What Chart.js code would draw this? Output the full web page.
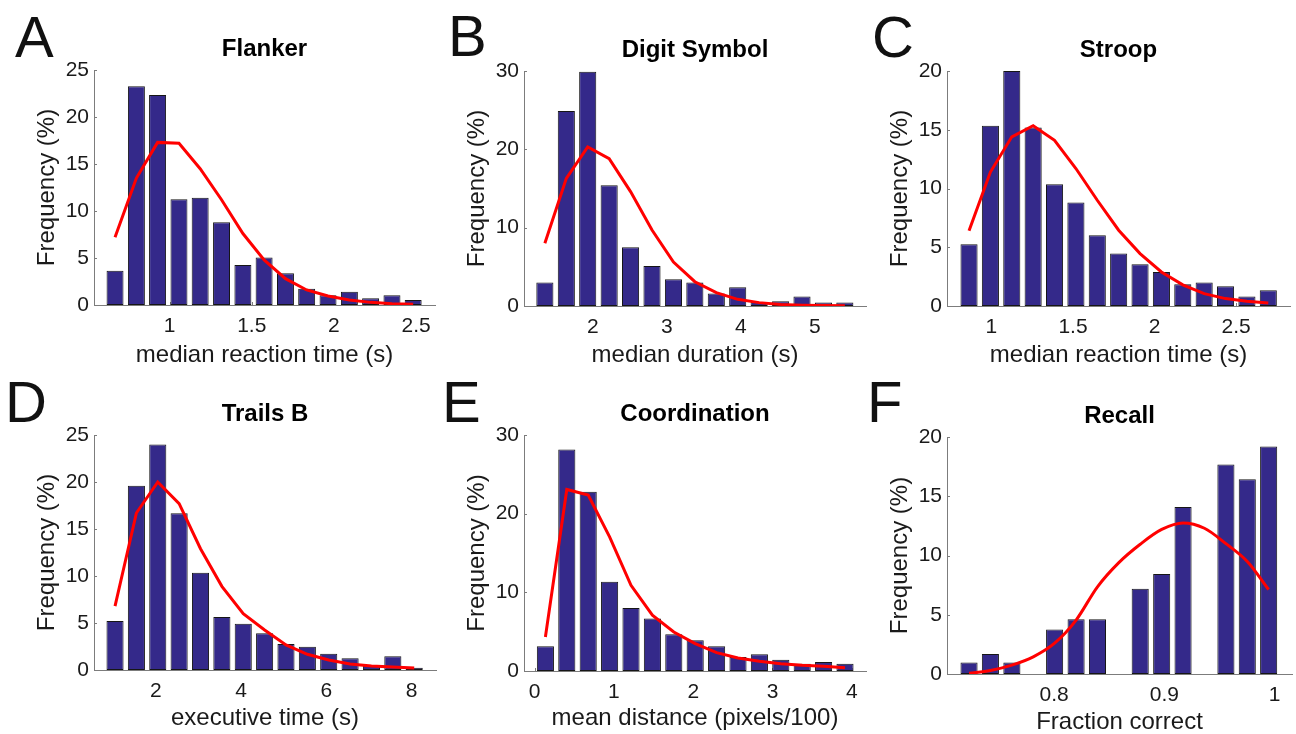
<!DOCTYPE html>
<html>
<head>
<meta charset="utf-8">
<script src="https://cdn.jsdelivr.net/npm/chart.js@4.4.1/dist/chart.umd.min.js"></script>
<style>
  body { margin: 0; background: #fff; width: 1296px; height: 734px; overflow: hidden; position: relative; font-family: "Liberation Sans", Arial, sans-serif; }
  canvas { position: absolute; }
  .letter { position: absolute; font-size: 58px; line-height: 58px; color: #111; }
</style>
</head>
<body>
<div class="letter" style="left:15px;top:8px">A</div>
<div class="letter" style="left:448px;top:7px">B</div>
<div class="letter" style="left:872px;top:8px">C</div>
<div class="letter" style="left:5px;top:373px">D</div>
<div class="letter" style="left:442px;top:373px">E</div>
<div class="letter" style="left:867px;top:373px">F</div>
<script>
// bin centres, histogram frequency (%) and fitted curve for each task
const flankerX = [0.668, 0.798, 0.927, 1.057, 1.186, 1.316, 1.446, 1.575, 1.705, 1.834, 1.964, 2.094, 2.223, 2.353, 2.482];
const flankerFreq = [3.65, 23.26, 22.34, 11.24, 11.42, 8.8, 4.26, 5.04, 3.37, 1.74, 1.03, 1.42, 0.71, 1.03, 0.53];
const flankerFit = [7.2, 13.5, 17.3, 17.2, 14.5, 11.2, 7.6, 4.8, 2.8, 1.6, 0.96, 0.53, 0.28, 0.14, 0.07];

const digitX = [1.35, 1.64, 1.929, 2.219, 2.508, 2.798, 3.088, 3.377, 3.667, 3.956, 4.246, 4.536, 4.825, 5.115, 5.404];
const digitFreq = [3.0, 24.9, 29.9, 15.4, 7.5, 5.1, 3.4, 3.0, 1.6, 2.4, 0.5, 0.6, 1.2, 0.45, 0.45];
const digitFit = [8.0, 16.3, 20.3, 18.8, 14.6, 9.7, 5.6, 3.1, 1.7, 0.85, 0.43, 0.2, 0.1, 0.05, 0.03];

const stroopX = [0.863, 0.994, 1.125, 1.256, 1.387, 1.518, 1.649, 1.78, 1.911, 2.042, 2.173, 2.304, 2.435, 2.566, 2.697];
const stroopFreq = [5.26, 15.34, 20.0, 15.2, 10.37, 8.8, 6.02, 4.46, 3.55, 2.9, 1.85, 1.99, 1.68, 0.8, 1.34];
const stroopFit = [6.4, 11.4, 14.4, 15.34, 14.1, 11.7, 9.0, 6.45, 4.46, 2.9, 1.8, 1.05, 0.63, 0.4, 0.26];

const trailsX = [1.045, 1.546, 2.047, 2.548, 3.049, 3.55, 4.051, 4.552, 5.053, 5.554, 6.055, 6.556, 7.057, 7.558, 8.059];
const trailsFreq = [5.2, 19.6, 24.0, 16.67, 10.35, 5.64, 4.93, 3.9, 2.77, 2.48, 1.74, 1.24, 0.53, 1.45, 0.25];
const trailsFit = [6.8, 16.7, 20.0, 17.7, 12.9, 8.9, 6.0, 4.25, 2.66, 1.67, 1.06, 0.64, 0.43, 0.32, 0.21];

const coordX = [0.135, 0.405, 0.675, 0.945, 1.215, 1.485, 1.755, 2.025, 2.295, 2.565, 2.835, 3.105, 3.375, 3.645, 3.915];
const coordFreq = [3.14, 28.17, 22.78, 11.33, 8.02, 6.66, 4.67, 3.9, 3.14, 1.78, 2.12, 1.44, 0.93, 1.15, 0.93];
const coordFit = [4.33, 23.08, 22.36, 17.06, 10.9, 7.1, 4.96, 3.48, 2.33, 1.65, 1.23, 0.93, 0.72, 0.6, 0.42];

const recallX = [0.7227, 0.7421, 0.7616, 0.781, 0.8004, 0.8199, 0.8393, 0.8587, 0.8781, 0.8976, 0.917, 0.9364, 0.9559, 0.9753, 0.9947];
const recallFreq = [0.98, 1.69, 0.98, 0, 3.76, 4.63, 4.63, 0, 7.19, 8.43, 14.1, 0, 17.67, 16.43, 19.19];
const recallFit = [0.06, 0.3, 0.75, 1.45, 2.6, 4.55, 7.36, 9.4, 10.95, 12.2, 12.75, 12.3, 11.0, 9.5, 7.13];

// axis limits and tick labels
const flankerRange = [0.54, 2.615], digitRange = [1.068, 5.69], stroopRange = [0.728, 2.83];
const trailsRange = [0.552, 8.57], coordRange = [-0.135, 4.18], recallRange = [0.7027, 1.0159];
const flankerTicks = [1, 1.5, 2, 2.5], digitTicks = [2, 3, 4, 5], stroopTicks = [1, 1.5, 2, 2.5];
const trailsTicks = [2, 4, 6, 8], coordTicks = [0, 1, 2, 3, 4], recallTicks = [0.8, 0.9, 1];
const freqTicks25 = [0, 5, 10, 15, 20, 25], freqTicks30 = [0, 10, 20, 30], freqTicks20 = [0, 5, 10, 15, 20];

const barBlue = '#34298a';
const axisGrey = '#7c7c7c';
const textCol = '#1a1a1a';

const panels = [
  {title: 'Flanker', xLabel: 'median reaction time (s)', x: flankerX, freq: flankerFreq, fit: flankerFit, range: flankerRange, xt: flankerTicks, yt: freqTicks25,
   box: {cx: 0, cy: 0, cw: 440, ch: 370, l: 94, t: 70, r: 436, b: 305}},
  {title: 'Digit Symbol', xLabel: 'median duration (s)', x: digitX, freq: digitFreq, fit: digitFit, range: digitRange, xt: digitTicks, yt: freqTicks30,
   box: {cx: 430, cy: 0, cw: 440, ch: 370, l: 524, t: 71, r: 866, b: 306}},
  {title: 'Stroop', xLabel: 'median reaction time (s)', x: stroopX, freq: stroopFreq, fit: stroopFit, range: stroopRange, xt: stroopTicks, yt: freqTicks20,
   box: {cx: 860, cy: 0, cw: 436, ch: 370, l: 947, t: 71, r: 1290, b: 306}},
  {title: 'Trails B', xLabel: 'executive time (s)', x: trailsX, freq: trailsFreq, fit: trailsFit, range: trailsRange, xt: trailsTicks, yt: freqTicks25,
   box: {cx: 0, cy: 365, cw: 440, ch: 368, l: 94, t: 435, r: 436, b: 670}},
  {title: 'Coordination', xLabel: 'mean distance (pixels/100)', x: coordX, freq: coordFreq, fit: coordFit, range: coordRange, xt: coordTicks, yt: freqTicks30,
   box: {cx: 430, cy: 365, cw: 440, ch: 368, l: 524, t: 435, r: 866, b: 671}},
  {title: 'Recall', xLabel: 'Fraction correct', x: recallX, freq: recallFreq, fit: recallFit, range: recallRange, xt: recallTicks, yt: freqTicks20, smooth: true,
   box: {cx: 860, cy: 369, cw: 436, ch: 368, l: 947, t: 437, r: 1292, b: 674}}
];

// small inward tick marks like matlab axes
const inTicks = {
  id: 'inTicks',
  beforeDatasetsDraw(chart) {
    const ctx = chart.ctx, a = chart.chartArea;
    const xs = chart.scales.x, ys = chart.scales.y;
    ctx.save();
    ctx.strokeStyle = axisGrey;
    ctx.lineWidth = 1;
    ctx.beginPath();
    ys.ticks.forEach(t => {
      const p = Math.round(ys.getPixelForValue(t.value)) + 0.5;
      ctx.moveTo(a.left, p); ctx.lineTo(a.left + 3, p);
    });
    xs.ticks.forEach(t => {
      const p = Math.round(xs.getPixelForValue(t.value)) + 0.5;
      ctx.moveTo(p, a.bottom); ctx.lineTo(p, a.bottom - 3);
    });
    ctx.stroke();
    ctx.restore();
  }
};

panels.forEach(p => {
  const b = p.box;
  const c = document.createElement('canvas');
  c.width = b.cw; c.height = b.ch;
  c.style.left = b.cx + 'px'; c.style.top = b.cy + 'px';
  document.body.appendChild(c);

  const yW = b.l - b.cx;
  const xH = b.cy + b.ch - b.b;
  const titleH = 24 * 1.2, titlePad = 6;

  new Chart(c, {
    type: 'bar',
    data: {
      datasets: [
        {
          type: 'line',
          data: p.x.map((v, i) => ({x: v, y: p.fit[i]})),
          borderColor: '#ff0000',
          borderWidth: 3,
          pointRadius: 0,
          tension: 0,
          cubicInterpolationMode: p.smooth ? 'monotone' : 'default',
          order: 0
        },
        {
          type: 'bar',
          data: p.x.map((v, i) => ({x: v, y: p.freq[i]})),
          backgroundColor: barBlue,
          borderColor: '#161616',
          borderWidth: 1,
          borderSkipped: false,
          barPercentage: 0.8,
          categoryPercentage: 1,
          order: 1
        }
      ]
    },
    options: {
      responsive: false,
      animation: false,
      events: [],
      layout: {
        autoPadding: false,
        padding: {left: 0, right: b.cx + b.cw - b.r, top: b.t - b.cy - titleH - titlePad, bottom: 0}
      },
      plugins: {
        legend: {display: false},
        tooltip: {enabled: false},
        title: {
          display: true,
          fullSize: false,
          text: p.title,
          color: '#000',
          font: {family: 'Liberation Sans', size: 24, weight: 'bold', lineHeight: 1.2},
          padding: {top: 0, bottom: titlePad}
        }
      },
      scales: {
        x: {
          type: 'linear',
          min: p.range[0],
          max: p.range[1],
          offset: false,
          afterBuildTicks: s => { s.ticks = p.xt.map(v => ({value: v})); },
          afterFit: s => { s.height = xH; },
          grid: {display: false, drawTicks: false},
          border: {display: true, color: axisGrey, width: 1},
          ticks: {color: textCol, padding: 9, maxRotation: 0, font: {family: 'Liberation Sans', size: 21}, callback: v => String(v)},
          title: {display: true, text: p.xLabel, color: textCol, padding: 0, font: {family: 'Liberation Sans', size: 24, lineHeight: 1.2}}
        },
        y: {
          min: 0,
          max: p.yt[p.yt.length - 1],
          afterBuildTicks: s => { s.ticks = p.yt.map(v => ({value: v})); },
          afterFit: s => { s.width = yW; },
          grid: {display: false, drawTicks: false},
          border: {display: true, color: axisGrey, width: 1},
          ticks: {color: textCol, padding: 5, font: {family: 'Liberation Sans', size: 21}, callback: v => String(v)},
          title: {display: true, text: 'Frequency (%)', color: textCol, padding: {top: yW - 61, bottom: 0}, font: {family: 'Liberation Sans', size: 24, lineHeight: 1.2}}
        }
      }
    },
    plugins: [inTicks]
  });
});
</script>
</body>
</html>
